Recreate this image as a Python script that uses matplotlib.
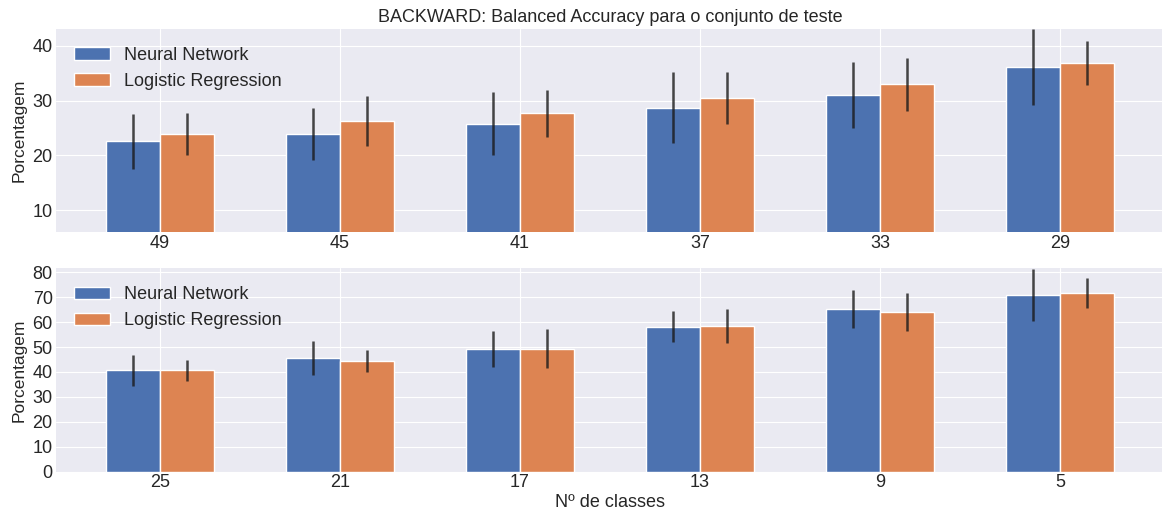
import numpy as np
import matplotlib
matplotlib.use("Agg")
import matplotlib.pyplot as plt

plt.style.use("seaborn-v0_8-darkgrid")
plt.rcParams["font.family"] = ["Liberation Sans", "DejaVu Sans"]

# numero de classes (backward elimination)
classes_top = ["49", "45", "41", "37", "33", "29"]
classes_bot = ["25", "21", "17", "13", "9", "5"]

# balanced accuracy media (%) e desvio
nn_top = [22.6, 23.9, 25.8, 28.7, 31.0, 36.1]
nn_top_std = [5.0, 4.7, 5.8, 6.5, 6.05, 6.9]
lr_top = [23.9, 26.3, 27.7, 30.5, 32.95, 36.8]
lr_top_std = [3.8, 4.5, 4.3, 4.8, 4.8, 4.0]

nn_bot = [40.7, 45.5, 49.1, 58.1, 65.2, 71.0]
nn_bot_std = [6.2, 6.75, 7.15, 6.2, 7.65, 10.4]
lr_bot = [40.7, 44.4, 49.4, 58.5, 64.1, 71.7]
lr_bot_std = [4.2, 4.3, 7.8, 6.7, 7.5, 6.15]

W, H = 1162, 512
fig = plt.figure(figsize=(W / 100, H / 100), dpi=100)
ax1 = fig.add_axes([55.5 / W, 1 - 232.3 / H, 1109 / W, 203.3 / H])
ax2 = fig.add_axes([55.5 / W, 1 - 471.7 / H, 1109 / W, 203.4 / H])

width = 0.3


def painel(ax, labels, nn, nn_std, lr, lr_std, ylim):
    x = np.arange(len(labels))
    ax.bar(x - width / 2, nn, width, yerr=nn_std, color="#4C72B0",
           edgecolor="white", linewidth=1, label="Neural Network",
           error_kw=dict(ecolor="#1a1a1a", elinewidth=1.8, alpha=0.8))
    ax.bar(x + width / 2, lr, width, yerr=lr_std, color="#DD8452",
           edgecolor="white", linewidth=1, label="Logistic Regression",
           error_kw=dict(ecolor="#1a1a1a", elinewidth=1.8, alpha=0.8))
    ax.set_xticks(x)
    ax.set_xticklabels(labels)
    ax.set_xlim(-0.58, 5.58)
    ax.set_ylim(*ylim)
    ax.set_ylabel("Porcentagem", fontsize=12.5, color=".15")
    ax.tick_params(labelsize=13, colors=".15", pad=2)
    ax.legend(loc="upper left", fontsize=13, frameon=False,
              borderaxespad=0.6)


painel(ax1, classes_top, nn_top, nn_top_std, lr_top, lr_top_std, (6, 43.05))
painel(ax2, classes_bot, nn_bot, nn_bot_std, lr_bot, lr_bot_std, (0, 81.6))
ax2.set_yticks(np.arange(0, 81, 10))

ax1.set_title("BACKWARD: Balanced Accuracy para o conjunto de teste",
              fontsize=13, color=".15", pad=5)
ax2.set_xlabel("Nº de classes", fontsize=13, color=".15", labelpad=2)

fig.savefig("out.png", dpi=100)
